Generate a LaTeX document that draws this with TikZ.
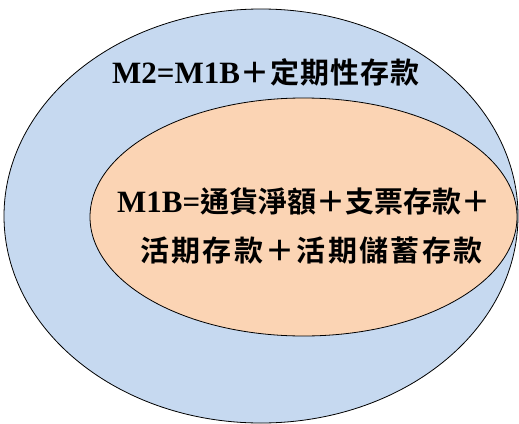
\documentclass[tikz,border=0pt]{standalone}
\usepackage{fontspec}
\setmainfont{Liberation Serif}
\newfontfamily\cjk{Noto Sans CJK TC}[BoldFont={* Bold}]
\newfontfamily\cjkmid{Noto Sans CJK TC}[BoldFont={* Bold},LetterSpace=4]
\newfontfamily\cjkwide{Noto Sans CJK TC}[BoldFont={* Bold},LetterSpace=8]
\definecolor{outerblue}{HTML}{C6D9F0}
\definecolor{innerpeach}{HTML}{FBD4B4}
\newcommand{\latin}{\fontsize{31}{34}\selectfont\bfseries}
\newcommand{\han}{\fontsize{29}{34}\selectfont\bfseries\cjk}
\newcommand{\hanmid}{\fontsize{29}{34}\selectfont\bfseries\cjkmid}
\newcommand{\hanwide}{\fontsize{29}{34}\selectfont\bfseries\cjkwide}
\begin{document}
\begin{tikzpicture}[x=1pt,y=-1pt,
  ring/.style={draw=black,line width=0.8pt},
  lbl/.style={anchor=base west,inner sep=0pt}]
\useasboundingbox (0,0) rectangle (519,423);
\fill[outerblue] (261,216) ellipse [x radius=257, y radius=207];
\draw[ring] (261,216) ellipse [x radius=257, y radius=207];
\fill[innerpeach] (303.5,217) ellipse [x radius=213.5, y radius=119];
\draw[ring] (303.5,217) ellipse [x radius=213.5, y radius=119];
\node[lbl] (m2) at (112,83) {{\latin M2=M1B}{\hanmid ＋定期性存款}};
\node[lbl] (m1a) at (117,212) {{\latin M1B=}{\han 通貨淨額＋支票存款＋}};
\node[lbl] (m1b) at (140,261) {{\hanwide 活期存款＋活期儲蓄存款}};
\end{tikzpicture}
\end{document}
